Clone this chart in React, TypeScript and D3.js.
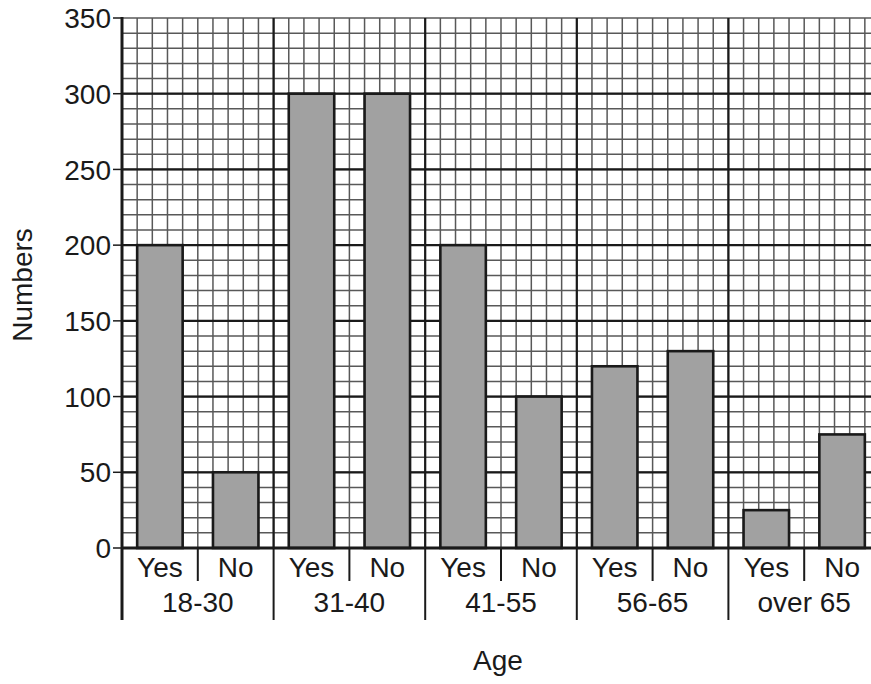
import React from "react";
import { range, scaleBand, scaleLinear } from "d3";

const ageGroups = ["18-30", "31-40", "41-55", "56-65", "over 65"];
const answers = ["Yes", "No"];
const yesValues = [200, 300, 200, 120, 25];
const noValues = [50, 300, 100, 130, 75];
const yTicks = [0, 50, 100, 150, 200, 250, 300, 350];

const W = 871;
const H = 684;
const LEFT = 122;
const RIGHT = 880;
const TOP = 18;
const BOTTOM = 548;
const FONT = "'Liberation Sans', Arial, Helvetica, sans-serif";
const FS = 28;

export default function App() {
  const y = scaleLinear().domain([0, 350]).range([BOTTOM, TOP]);
  const xGroup = scaleBand().domain(ageGroups).range([LEFT, RIGHT]).padding(0);
  const bw = xGroup.bandwidth();
  // position inside a group, in grid cells (10 per group)
  const xCell = scaleLinear().domain([0, 10]).range([0, bw]);
  const xAll = scaleLinear().domain([0, ageGroups.length * 10]).range([LEFT, RIGHT]);

  const minorY = range(0, 351, 10);
  const minorX = range(0, ageGroups.length * 10 + 1);
  const barSpan: Record<string, [number, number]> = { Yes: [1, 4], No: [6, 9] };

  const bars = ageGroups.flatMap((g, i) => [
    { g, a: "Yes", v: yesValues[i] },
    { g, a: "No", v: noValues[i] }
  ]);

  return (
    <div style={{ position: "absolute", left: 0, top: 0 }}>
      <svg width={W} height={H} style={{ display: "block" }} fontFamily={FONT}>
        <rect width={W} height={H} fill="#fff" />
        {/* minor grid */}
        <g stroke="#585858" strokeWidth={1.5}>
          {minorY.map(v => (
            <line key={"h" + v} x1={LEFT} x2={RIGHT} y1={y(v)} y2={y(v)} />
          ))}
          {minorX.map(c => (
            <line key={"v" + c} x1={xAll(c)} x2={xAll(c)} y1={TOP} y2={BOTTOM} />
          ))}
        </g>
        {/* major grid */}
        <g stroke="#1a1a1a" strokeWidth={2.2}>
          {yTicks.filter(v => v > 0 && v < 350).map(v => (
            <line key={"H" + v} x1={LEFT} x2={RIGHT} y1={y(v)} y2={y(v)} />
          ))}
          {ageGroups.map(g => (
            <line key={"V" + g} x1={xGroup(g)! + bw} x2={xGroup(g)! + bw} y1={TOP} y2={BOTTOM} />
          ))}
        </g>
        {/* bars */}
        {bars.map(d => {
          const [c0, c1] = barSpan[d.a];
          const x0 = xGroup(d.g)! + xCell(c0);
          const x1 = xGroup(d.g)! + xCell(c1);
          return (
            <rect
              key={d.g + d.a}
              x={x0}
              y={y(d.v)}
              width={x1 - x0}
              height={BOTTOM - y(d.v)}
              fill="#a1a1a1"
              stroke="#1a1a1a"
              strokeWidth={2.6}
            />
          );
        })}
        {/* axes */}
        <line x1={LEFT} x2={LEFT} y1={TOP - 1} y2={620} stroke="#1a1a1a" strokeWidth={3} />
        <line x1={LEFT} x2={RIGHT} y1={BOTTOM} y2={BOTTOM} stroke="#1a1a1a" strokeWidth={3} />
        {yTicks.map(v => (
          <g key={"t" + v} transform={`translate(${LEFT}, ${y(v)})`}>
            <line x1={-9} x2={0} stroke="#1a1a1a" strokeWidth={1.5} />
            <text x={-11} dy="0.36em" textAnchor="end" fontSize={FS} fill="#1a1a1a">
              {v}
            </text>
          </g>
        ))}
        {/* x axis categories */}
        {ageGroups.map(g => {
          const gx = xGroup(g)!;
          return (
            <g key={"x" + g}>
              <line x1={gx + bw} x2={gx + bw} y1={BOTTOM} y2={620} stroke="#1a1a1a" strokeWidth={2} />
              <line x1={gx + xCell(5)} x2={gx + xCell(5)} y1={BOTTOM} y2={581} stroke="#1a1a1a" strokeWidth={2} />
              {answers.map(a => (
                <text
                  key={a}
                  x={gx + xCell((barSpan[a][0] + barSpan[a][1]) / 2)}
                  y={577}
                  textAnchor="middle"
                  fontSize={FS}
                  fill="#1a1a1a"
                >
                  {a}
                </text>
              ))}
              <text x={gx + bw / 2} y={612} textAnchor="middle" fontSize={FS} fill="#1a1a1a">
                {g}
              </text>
            </g>
          );
        })}
        <text
          transform="translate(32, 285) rotate(-90)"
          textAnchor="middle"
          fontSize={FS}
          fill="#1a1a1a"
        >
          Numbers
        </text>
        <text x={498} y={670} textAnchor="middle" fontSize={FS} fill="#1a1a1a">
          Age
        </text>
      </svg>
    </div>
  );
}
